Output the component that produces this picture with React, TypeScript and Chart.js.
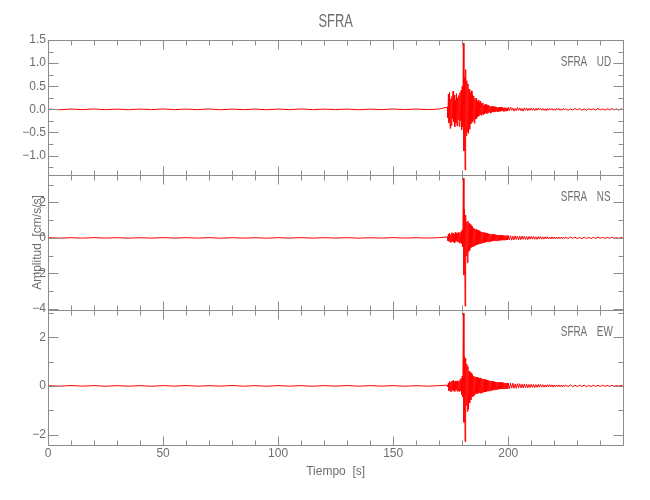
import React, { useEffect, useRef } from "react";
import { Chart, registerables } from "chart.js";

Chart.register(...registerables);

const CHART_TITLE = "SFRA";
const STATION = "SFRA";
const X_TITLE = "Tiempo  [s]";
const Y_TITLE = "Amplitud  [cm/s/s]";

const X_MIN = 0;
const X_MAX = 250;
const X_MAJOR = 50;
const X_MINOR = 10;

const COMPONENTS = ["UD", "NS", "EW"];
const Y_MIN = [-1.42, -4.07, -2.43];
const Y_MAX = [1.5, 3.55, 3.12];
const Y_MAJOR = [0.5, 2, 2];
const Y_MINOR = [0.25, 1, 1];
const Y_DECIMALS = [1, 0, 0];

// sampling of the hand-read segments: pre-event, event, coda, tail
const PRE_T0 = 0;
const PRE_DT = 5;
const EVENT_T0 = 173.5;
const EVENT_DT = 0.25;
const CODA_T0 = 200;
const CODA_DT = 0.5;
const TAIL_T0 = 225;
const TAIL_DT = 1;

const udPre = [0.005, -0.008, 0.006, -0.005, 0.008, -0.006, 0.005, -0.008, 0.006, -0.005, 0.008, -0.005, 0.006, -0.006, 0.008, -0.008, 0.005, -0.006, 0.005, -0.008, 0.006, -0.005, 0.008, -0.006, 0.005, -0.005, 0.006, -0.008, 0.005, -0.006, 0.008, -0.005, 0.006, -0.005, 0.006];
const udEvent = [
  0.05, -0.18, 0.33, -0.29, 0.37, -0.41, 0.22, -0.35, 0.28, -0.2,
  0.39, -0.27, 0.31, -0.38, 0.2, -0.3, 0.34, -0.36, 0.25, -0.22,
  0.3, -0.37, 0.36, -0.25, 0.41, -0.44, 0.5, -0.38, 1.43, -0.9,
  0.7, -1.31, 0.86, -0.57, 0.62, -0.49, 0.55, -0.52, 0.44, -0.43,
  0.36, -0.31, 0.4, -0.28, 0.33, -0.24, 0.29, -0.3, 0.23, -0.21,
  0.24, -0.2, 0.17, -0.16, 0.2, -0.14, 0.15, -0.11, 0.18, -0.13,
  0.13, -0.1, 0.14, -0.12, 0.09, -0.1, 0.11, -0.08, 0.1, -0.09,
  0.08, -0.07, 0.09, -0.06, 0.07, -0.08, 0.06, -0.07, 0.07, -0.05,
  0.06, -0.06, 0.05, -0.05, 0.06, -0.04, 0.05, -0.05, 0.04, -0.05,
  0.05, -0.04, 0.04, -0.04, 0.05, -0.03, 0.04, -0.04, 0.03, -0.04,
  0.04, -0.03, 0.03, -0.04, 0.03, -0.03,
];
const udCoda = [
  0.04, -0.03, 0.05, -0.02, 0.03, -0.04, 0.02, -0.03, 0.04, -0.02,
  0.03, -0.03, 0.02, -0.04, 0.03, -0.02, 0.03, -0.03, 0.02, -0.02,
  0.03, -0.02, 0.02, -0.03, 0.02, -0.02, 0.03, -0.01, 0.02, -0.02,
  0.02, -0.02, 0.01, -0.03, 0.02, -0.02, 0.02, -0.01, 0.02, -0.02,
  0.01, -0.02, 0.02, -0.01, 0.02, -0.02, 0.01, -0.02, 0.02, -0.01,
];
const udTail = [0.015, -0.02, 0.01, -0.015, 0.02, -0.01, 0.015, -0.015, 0.01, -0.02, 0.015, -0.01, 0.01, -0.015, 0.02, -0.01, 0.01, -0.015, 0.01, -0.01, 0.015, -0.01, 0.01, -0.015, 0.01, -0.01];

const nsPre = [0.012, -0.015, 0.01, -0.012, 0.015, -0.01, 0.012, -0.015, 0.01, -0.012, 0.015, -0.01, 0.012, -0.012, 0.015, -0.015, 0.01, -0.012, 0.01, -0.015, 0.012, -0.01, 0.015, -0.012, 0.01, -0.01, 0.012, -0.015, 0.01, -0.012, 0.015, -0.01, 0.012, -0.01, 0.012];
const nsEvent = [
  0.06, -0.15, 0.22, -0.19, 0.27, -0.25, 0.18, -0.23, 0.3, -0.2,
  0.26, -0.24, 0.2, -0.27, 0.31, -0.18, 0.25, -0.23, 0.28, -0.21,
  0.33, -0.3, 0.27, -0.26, 0.35, -0.32, 0.45, -0.5, 3.37, -2.1,
  1.6, -3.85, 1.29, -1.0, 0.9, -1.4, 0.95, -0.8, 0.82, -0.7,
  0.75, -0.55, 0.68, -0.5, 0.6, -0.48, 0.55, -0.45, 0.5, -0.42,
  0.48, -0.4, 0.44, -0.36, 0.42, -0.35, 0.38, -0.32, 0.36, -0.3,
  0.33, -0.28, 0.32, -0.27, 0.3, -0.25, 0.28, -0.24, 0.27, -0.22,
  0.25, -0.22, 0.24, -0.21, 0.22, -0.2, 0.21, -0.19, 0.2, -0.18,
  0.2, -0.17, 0.19, -0.16, 0.18, -0.16, 0.17, -0.15, 0.17, -0.14,
  0.16, -0.14, 0.15, -0.13, 0.15, -0.13, 0.14, -0.12, 0.14, -0.12,
  0.13, -0.12, 0.13, -0.11, 0.13, -0.11,
];
const nsCoda = [
  0.13, -0.1, 0.12, -0.13, 0.09, -0.11, 0.12, -0.09, 0.1, -0.11,
  0.09, -0.1, 0.11, -0.08, 0.09, -0.09, 0.08, -0.1, 0.08, -0.07,
  0.09, -0.07, 0.08, -0.08, 0.06, -0.08, 0.07, -0.06, 0.07, -0.07,
  0.06, -0.07, 0.06, -0.05, 0.07, -0.06, 0.05, -0.06, 0.06, -0.05,
  0.05, -0.06, 0.05, -0.04, 0.05, -0.05, 0.04, -0.05, 0.05, -0.04,
];
const nsTail = [0.04, -0.04, 0.05, -0.03, 0.04, -0.04, 0.03, -0.04, 0.04, -0.03, 0.03, -0.04, 0.03, -0.03, 0.04, -0.02, 0.03, -0.03, 0.03, -0.02, 0.03, -0.03, 0.02, -0.03, 0.02, -0.02];

const ewPre = [0.01, -0.012, 0.015, -0.01, 0.012, -0.015, 0.01, -0.012, 0.01, -0.015, 0.012, -0.01, 0.015, -0.012, 0.01, -0.01, 0.015, -0.012, 0.01, -0.015, 0.012, -0.01, 0.01, -0.015, 0.012, -0.01, 0.015, -0.012, 0.01, -0.01, 0.012, -0.015, 0.01, -0.012, 0.01];
const ewEvent = [
  0.03, -0.04, 0.12, -0.2, 0.18, -0.22, 0.15, -0.24, 0.2, -0.17,
  0.22, -0.19, 0.17, -0.23, 0.2, -0.16, 0.19, -0.22, 0.21, -0.2,
  0.18, -0.23, 0.25, -0.2, 0.3, -0.35, 0.4, -0.45, 2.99, -1.5,
  1.2, -2.29, 1.14, -0.8, 0.9, -1.05, 0.8, -0.95, 0.6, -0.7,
  0.55, -0.58, 0.5, -0.45, 0.45, -0.42, 0.4, -0.38, 0.38, -0.33,
  0.35, -0.3, 0.36, -0.32, 0.33, -0.28, 0.31, -0.3, 0.33, -0.29,
  0.3, -0.27, 0.28, -0.26, 0.27, -0.24, 0.26, -0.25, 0.24, -0.22,
  0.24, -0.21, 0.22, -0.2, 0.21, -0.2, 0.2, -0.18, 0.19, -0.18,
  0.18, -0.16, 0.17, -0.16, 0.16, -0.15, 0.16, -0.14, 0.15, -0.14,
  0.15, -0.13, 0.14, -0.13, 0.14, -0.12, 0.13, -0.12, 0.13, -0.12,
  0.12, -0.11, 0.12, -0.11, 0.12, -0.11,
];
const ewCoda = [
  0.11, -0.12, 0.1, -0.09, 0.11, -0.1, 0.08, -0.1, 0.09, -0.08,
  0.09, -0.08, 0.07, -0.09, 0.08, -0.07, 0.07, -0.08, 0.06, -0.07,
  0.07, -0.06, 0.06, -0.07, 0.05, -0.06, 0.06, -0.05, 0.06, -0.05,
  0.05, -0.05, 0.04, -0.05, 0.05, -0.04, 0.05, -0.04, 0.04, -0.05,
  0.04, -0.04, 0.04, -0.03, 0.04, -0.04, 0.03, -0.04, 0.04, -0.03,
];
const ewTail = [0.03, -0.03, 0.04, -0.03, 0.03, -0.03, 0.03, -0.02, 0.03, -0.03, 0.02, -0.03, 0.03, -0.02, 0.02, -0.02, 0.03, -0.02, 0.02, -0.02, 0.02, -0.02, 0.02, -0.01, 0.02, -0.02];

const SERIES = [
  [udPre, udEvent, udCoda, udTail],
  [nsPre, nsEvent, nsCoda, nsTail],
  [ewPre, ewEvent, ewCoda, ewTail],
];
const SEGMENT_T0 = [PRE_T0, EVENT_T0, CODA_T0, TAIL_T0];
const SEGMENT_DT = [PRE_DT, EVENT_DT, CODA_DT, TAIL_DT];

const FONT = "'Liberation Sans', Arial, sans-serif";
const TEXT_COLOR = "#6e6e6e";
const AXIS_COLOR = "#8c8c8c";
const TRACE_COLOR = "#ff0000";

function buildPoints(segments: number[][]) {
  const pts: { x: number; y: number }[] = [];
  segments.forEach((seg, s) => {
    seg.forEach((v, i) => pts.push({ x: SEGMENT_T0[s] + i * SEGMENT_DT[s], y: v }));
  });
  return pts;
}

const scaleId = (i: number) => "y" + COMPONENTS[i];

const framePlugin = {
  id: "frames",
  afterDatasetsDraw(chart: any) {
    const { ctx, chartArea, scales } = chart;
    const xs = scales.x;
    const L = Math.round(chartArea.left) + 0.5;
    const R = Math.round(chartArea.right) + 0.5;
    ctx.save();
    ctx.strokeStyle = AXIS_COLOR;
    ctx.lineWidth = 1;
    COMPONENTS.forEach((_, i) => {
      const ys = scales[scaleId(i)];
      const T = Math.round(ys.top) + 0.5;
      const B = Math.round(ys.bottom) + 0.5;
      ctx.beginPath();
      ctx.rect(L, T, R - L, B - T);
      const nx = Math.round((X_MAX - X_MIN) / X_MINOR);
      for (let k = 0; k <= nx; k++) {
        const v = X_MIN + k * X_MINOR;
        const px = Math.round(xs.getPixelForValue(v)) + 0.5;
        const len = Math.abs(v / X_MAJOR - Math.round(v / X_MAJOR)) < 1e-6 ? 9 : 5;
        ctx.moveTo(px, T);
        ctx.lineTo(px, T + len);
        ctx.moveTo(px, B);
        ctx.lineTo(px, B - len);
      }
      const step = Y_MINOR[i];
      const k0 = Math.ceil(Y_MIN[i] / step - 1e-9);
      const k1 = Math.floor(Y_MAX[i] / step + 1e-9);
      for (let k = k0; k <= k1; k++) {
        const v = k * step;
        const py = Math.round(ys.getPixelForValue(v)) + 0.5;
        const r = v / Y_MAJOR[i];
        const len = Math.abs(r - Math.round(r)) < 1e-6 ? 10 : 5;
        ctx.moveTo(L, py);
        ctx.lineTo(L + len, py);
        ctx.moveTo(R, py);
        ctx.lineTo(R - len, py);
      }
      ctx.stroke();
    });
    ctx.restore();
  },
  afterDraw(chart: any) {
    const { ctx, chartArea, scales } = chart;
    ctx.save();
    ctx.fillStyle = TEXT_COLOR;
    ctx.textBaseline = "middle";
    const drawNarrow = (txt: string, x: number, y: number, size: number, sx: number, align: CanvasTextAlign) => {
      ctx.save();
      ctx.font = `${size}px ${FONT}`;
      ctx.textAlign = align;
      ctx.translate(x, y);
      ctx.scale(sx, 1);
      ctx.fillText(txt, 0, 0);
      ctx.restore();
    };
    drawNarrow(CHART_TITLE, (chartArea.left + chartArea.right) / 2, 22, 19, 0.68, "center");
    COMPONENTS.forEach((comp, i) => {
      const ys = scales[scaleId(i)];
      const y = ys.top + 22;
      drawNarrow(STATION, chartArea.right - 62.5, y, 15, 0.66, "left");
      drawNarrow(comp, chartArea.right - 26.5, y, 15, 0.66, "left");
    });
    ctx.restore();
  },
};

const fmt = (v: number, d: number) => {
  const s = Math.abs(v).toFixed(d);
  return v < -1e-9 ? "\u2212" + s : s;
};

export default function App() {
  const ref = useRef<HTMLCanvasElement | null>(null);

  useEffect(() => {
    if (!ref.current) return;
    const datasets = COMPONENTS.map((comp, i) => ({
      label: `${STATION} ${comp}`,
      data: buildPoints(SERIES[i]),
      yAxisID: scaleId(i),
      borderColor: TRACE_COLOR,
      borderWidth: 1,
      pointRadius: 0,
      tension: 0,
      fill: false,
    }));

    const yScales: any = {};
    COMPONENTS.forEach((comp, i) => {
      yScales[scaleId(i)] = {
        type: "linear",
        position: "left",
        stack: "panels",
        stackWeight: 1,
        weight: COMPONENTS.length - i,
        min: Y_MIN[i],
        max: Y_MAX[i],
        grid: { display: false, drawTicks: false, tickLength: 0 },
        border: { display: false },
        ticks: {
          stepSize: Y_MAJOR[i],
          includeBounds: false,
          autoSkip: false,
          color: TEXT_COLOR,
          font: { family: FONT, size: 12 },
          padding: 2,
          callback: (v: any) => fmt(Number(v), Y_DECIMALS[i]),
        },
        title: {
          display: comp === "NS",
          text: Y_TITLE,
          color: TEXT_COLOR,
          font: { family: FONT, size: 12 },
          padding: { top: 30.3, bottom: 0 },
        },
        afterFit: (s: any) => {
          s.width = 48;
        },
      };
    });

    const chart = new Chart(ref.current, {
      type: "line",
      data: { datasets },
      options: {
        animation: false,
        responsive: true,
        maintainAspectRatio: false,
        parsing: false as any,
        normalized: true,
        events: [],
        layout: { padding: { left: 0, right: 26.7, top: 40, bottom: 0 } },
        plugins: {
          legend: { display: false },
          tooltip: { enabled: false },
          title: { display: false },
        },
        scales: {
          x: {
            type: "linear",
            position: "bottom",
            min: X_MIN,
            max: X_MAX,
            grid: { display: false, drawTicks: false, tickLength: 0 },
            border: { display: false },
            ticks: {
              stepSize: X_MAJOR,
              includeBounds: false,
              autoSkip: false,
              maxRotation: 0,
              color: TEXT_COLOR,
              font: { family: FONT, size: 12 },
              padding: 1,
            },
            afterBuildTicks: (s: any) => {
              s.ticks = s.ticks.filter((t: any) => t.value < X_MAX);
            },
            title: {
              display: true,
              text: X_TITLE,
              color: TEXT_COLOR,
              font: { family: FONT, size: 12 },
              padding: { top: 0, bottom: 21.3 },
            },
            afterFit: (s: any) => {
              s.height = 55;
            },
          },
          ...yScales,
        },
      },
      plugins: [framePlugin],
    });
    return () => chart.destroy();
  }, []);

  return (
    <div style={{ position: "fixed", left: 0, top: 0, width: 650, height: 500, background: "#fff" }}>
      <canvas ref={ref} />
    </div>
  );
}
